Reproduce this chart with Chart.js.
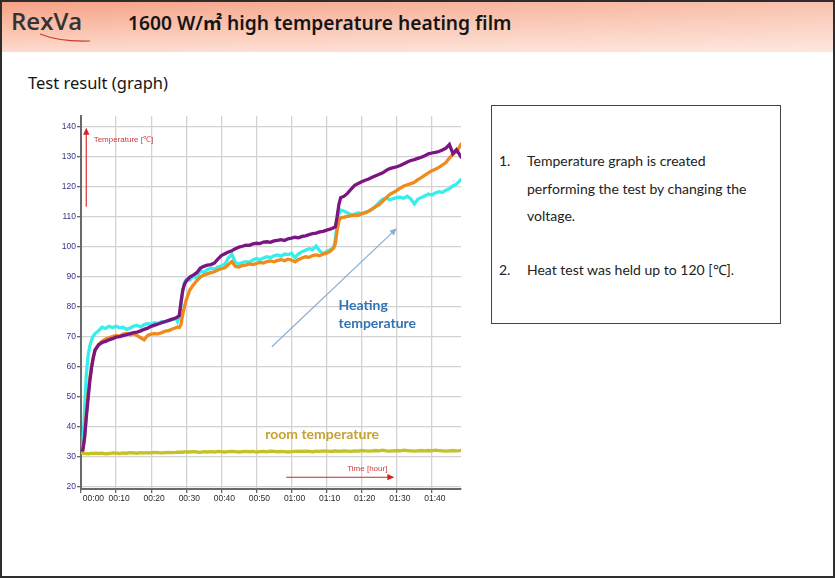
<!DOCTYPE html>
<html><head><meta charset="utf-8">
<script src="https://cdn.jsdelivr.net/npm/chart.js@4.4.1/dist/chart.umd.min.js"></script>
<style>
html,body{margin:0;padding:0;background:#fff;}
#page{position:relative;width:835px;height:578px;overflow:hidden;background:#fff;font-family:"Noto Sans",sans-serif;color:#151515;}
#frame{position:absolute;left:0;top:0;width:835px;height:578px;box-sizing:border-box;border:2px solid #2d2d2d;pointer-events:none;z-index:10;}
#header{position:absolute;left:0;top:0;width:835px;height:52px;
 background:linear-gradient(to right, rgba(255,255,255,0) 0%, rgba(255,255,255,0.35) 100%), linear-gradient(to bottom,#f59f82 0%,#fbc9b6 70%,#fddbcf 100%);}
#logo{position:absolute;left:11px;top:4px;font-family:"Open Sans",sans-serif;font-weight:600;font-size:24px;color:#333;letter-spacing:0px;}
#swoosh{position:absolute;left:38px;top:33px;}
#title{position:absolute;left:128px;top:8px;font-family:"Noto Sans","Noto Sans CJK KR",sans-serif;font-weight:600;font-size:19.2px;color:#151515;white-space:nowrap;}
#sub{position:absolute;left:28px;top:71px;font-size:16.5px;color:#151515;white-space:nowrap;}
#box{position:absolute;left:491px;top:105px;width:290px;height:219px;box-sizing:border-box;border:1px solid #444;}
.ln{position:absolute;font-family:Lato,sans-serif;font-size:14px;color:#222;white-space:nowrap;line-height:16px;}
#chartWrap{position:absolute;left:50px;top:110px;width:420px;height:400px;}
</style></head>
<body>
<div id="page">
 <div id="header"></div>
 <div id="logo">RexVa</div>
 <svg id="swoosh" width="60" height="12"><path d="M2 1 Q 22 9 52 8" stroke="#d23a2a" stroke-width="1.2" fill="none"/></svg>
 <div id="title">1600 W/㎡ high temperature heating film</div>
 <div id="sub">Test result (graph)</div>
 <div id="box"></div>
 <div class="ln" style="left:499px;top:153px;">1.</div>
 <div class="ln" style="left:527px;top:153px;">Temperature graph is created</div>
 <div class="ln" style="left:527px;top:181px;">performing the test by changing the</div>
 <div class="ln" style="left:527px;top:208px;">voltage.</div>
 <div class="ln" style="left:499px;top:262px;">2.</div>
 <div class="ln" style="left:527px;top:262px;">Heat test was held up to 120 [℃].</div>
 <div id="chartWrap"><canvas id="c" width="420" height="400"></canvas></div>
 <div id="frame"></div>
</div>
<script>
// ---- data (time in minutes, temperature in °C) ----
const timeMin = [0,0.5,1,1.5,2,2.5,3,3.5,4,
 5,6,7,8,9,10,11,12,13,14,15,16,17,18,19,20,21,22,23,24,25,26,27,
 27.5,28,28.5,29,29.5,30,
 31,32,33,34,35,36,37,38,39,40,41,42,43,44,45,46,47,48,49,50,51,52,53,54,55,56,57,58,59,60,61,62,63,64,65,66,67,68,69,70,71,
 71.5,72,72.5,73,73.5,74,
 75,76,77,78,79,80,81,82,83,84,85,86,87,88,89,90,91,92,93,94,95,96,97,98,99,100,101,102,103,104,105,106,107,108,
 108.5];

const purpleSeries = [31.5,32.0,36.0,43.0,49.0,55.0,59.5,63.0,65.5,
 67.2,68.0,68.4,68.9,69.3,69.8,70.0,70.3,70.6,71.0,71.3,71.5,71.9,72.4,72.8,73.4,73.8,74.2,74.6,75.0,75.4,75.8,76.2,
 76.5,77.0,81.5,85.5,87.5,88.5,
 89.8,90.5,91.3,92.8,93.4,93.8,94.0,94.5,95.8,97.0,97.6,98.2,98.6,99.3,99.8,100.1,100.5,100.4,100.9,101.1,101.0,101.5,101.6,101.4,101.9,102.1,102.3,102.0,102.6,102.8,103.1,102.9,103.4,103.6,104.0,104.3,104.5,104.9,105.1,105.5,105.8,
 106.0,106.3,106.6,110.0,114.0,116.3,
 116.8,117.8,119.2,120.4,121.0,121.6,122.1,122.5,123.1,123.6,124.1,124.6,125.4,126.0,126.3,126.6,127.0,127.6,128.2,128.7,129.0,129.4,129.8,130.3,130.9,131.2,131.4,131.7,132.2,132.8,134.0,131.0,132.3,130.5,
 129.5];

const orangeSeries = [31.5,32.0,36.0,44.0,50.5,56.0,60.0,63.0,65.5,
 67.3,68.4,69.2,69.6,70.0,70.4,70.1,70.8,71.0,70.6,70.9,70.3,69.6,68.9,70.4,70.8,71.0,70.9,71.3,71.8,72.0,72.5,72.9,
 73.2,73.0,74.0,77.5,80.0,82.2,
 85.5,87.2,88.6,89.8,90.5,90.9,91.3,91.6,92.2,92.6,92.9,94.0,95.0,93.4,93.2,93.7,93.8,94.2,94.0,94.4,94.7,94.5,95.0,95.2,94.9,95.4,95.6,95.3,95.8,95.5,94.9,95.7,96.2,96.6,96.4,97.0,97.2,96.9,97.5,97.8,98.4,
 99.0,99.6,101.0,105.5,108.5,109.6,
 109.8,110.1,110.3,110.5,110.4,111.0,111.2,111.8,112.6,113.3,114.0,115.2,116.3,117.4,118.0,118.7,119.5,120.2,120.6,121.0,121.4,122.3,123.0,123.8,124.6,125.3,125.8,126.4,127.2,128.0,129.5,130.8,131.5,133.5,
 134.5];

const cyanSeries = [32.0,33.5,45.0,57.0,63.5,66.8,68.8,70.2,71.0,
 71.9,73.1,72.7,73.4,73.0,73.4,72.9,73.1,72.4,72.8,73.5,73.7,73.2,74.0,74.3,74.1,74.6,74.4,75.0,74.8,75.3,75.6,76.1,
 75.0,76.4,80.5,85.2,88.0,89.0,
 88.8,90.3,89.4,92.0,91.4,92.3,92.8,92.5,93.2,93.6,94.1,96.2,97.4,94.7,94.2,94.7,95.0,94.8,95.5,96.0,95.6,96.2,96.6,96.3,96.9,97.2,96.8,97.5,97.3,97.8,96.3,97.6,98.3,98.8,99.3,99.0,100.2,98.6,97.6,98.4,98.9,
 99.2,99.6,102.5,107.5,110.8,112.2,
 111.8,111.2,110.6,110.8,111.3,110.9,111.4,111.8,112.4,113.5,114.8,115.8,116.2,115.6,116.0,116.3,116.5,116.1,116.8,115.9,114.2,115.8,116.4,116.9,117.5,117.2,117.9,118.3,118.0,118.8,119.3,120.2,120.8,122.0,
 122.6];

const roomSeries = [31.2,31.0,31.1,31.0,30.9,31.0,31.1,31.0,31.1,
 31.0,31.1,30.9,31.0,31.2,31.1,31.0,31.2,31.1,31.3,31.2,31.1,31.3,31.2,31.3,31.2,31.4,31.3,31.2,31.3,31.4,31.3,31.4,
 31.5,31.4,31.5,31.4,31.6,31.5,
 31.5,31.6,31.5,31.4,31.6,31.5,31.6,31.5,31.7,31.6,31.5,31.6,31.7,31.6,31.5,31.6,31.7,31.6,31.7,31.5,31.6,31.7,31.6,31.8,31.7,31.6,31.7,31.6,31.5,31.6,31.7,31.8,31.7,31.8,31.7,31.6,31.8,31.7,31.9,31.8,31.7,
 31.8,31.7,31.9,31.8,31.7,31.8,
 31.9,31.8,31.7,31.9,31.8,32.0,31.9,31.8,31.9,32.0,31.9,32.1,31.9,31.8,31.9,32.0,31.9,32.1,32.0,31.9,31.8,31.9,32.0,31.9,32.0,31.9,32.1,32.0,31.9,31.8,31.9,32.0,31.9,32.0,
 32.1];

const yTickValues = [20,30,40,50,60,70,80,90,100,110,120,130,140];
const xTickValues = [0,10,20,30,40,50,60,70,80,90,100];

// ---- chart ----
const toXY = arr => arr.map((v,i)=>({x: timeMin[i], y: v}));
const fmt = m => { const h=Math.floor(m/60), mm=m%60; return String(h).padStart(2,'0')+':'+String(mm).padStart(2,'0'); };

const annot = {
  id:'annot',
  afterDatasetsDraw(chart){
    const {ctx, scales:{x,y}} = chart;
    const px = v=>x.getPixelForValue(v), py = v=>y.getPixelForValue(v);
    function arrow(x1,y1,x2,y2,color,lw,head){
      ctx.save();
      ctx.strokeStyle=color; ctx.fillStyle=color; ctx.lineWidth=lw;
      const a=Math.atan2(y2-y1,x2-x1);
      ctx.beginPath(); ctx.moveTo(x1,y1); ctx.lineTo(x2-Math.cos(a)*head*0.8,y2-Math.sin(a)*head*0.8); ctx.stroke();
      ctx.beginPath(); ctx.moveTo(x2,y2);
      ctx.lineTo(x2-head*Math.cos(a)+head*0.45*Math.sin(a), y2-head*Math.sin(a)-head*0.45*Math.cos(a));
      ctx.lineTo(x2-head*Math.cos(a)-head*0.45*Math.sin(a), y2-head*Math.sin(a)+head*0.45*Math.cos(a));
      ctx.closePath(); ctx.fill();
      ctx.restore();
    }
    ctx.save();
    arrow(px(1.5),py(113.3),px(1.5),py(139.6),'#d32222',1.1,7);
    arrow(px(58.5),py(23.1),px(89.3),py(23.1),'#d32222',1.1,7);
    ctx.font='8px "Liberation Sans"'; ctx.fillStyle='#cc3b3b'; ctx.textBaseline='middle';
    ctx.textAlign='left'; ctx.fillText('Temperature [℃]', px(3.6), py(135.7));
    ctx.textAlign='center'; ctx.fillText('Time [hour]', px(81.6), py(25.8));
    arrow(px(54.4),py(66.6),px(90.0),py(106.1),'#8aaed0',1.2,7);
    ctx.font='bold 14px Lato'; ctx.textAlign='left';
    ctx.fillStyle='#2f74b5';
    ctx.fillText('Heating', px(73.4), py(80.3));
    ctx.fillText('temperature', px(73.4), py(74.4));
    ctx.fillStyle='#c6a232';
    ctx.fillText('room temperature', px(52.5), py(37.5));
    ctx.restore();
  }
};

const lineDs = (label, arr, color) => ({label, data: toXY(arr), borderColor: color, backgroundColor: color,
  borderWidth: 3.3, pointRadius: 0, tension: 0, fill: false});

new Chart(document.getElementById('c'), {
  type:'line',
  data:{ datasets:[
    lineDs('Room', roomSeries, '#c6c226'),
    lineDs('Purple', purpleSeries, '#7b1582'),
    lineDs('Orange', orangeSeries, '#f08a1c'),
    lineDs('Cyan', cyanSeries, '#38eeea')
  ]},
  options:{
    responsive:false, animation:false, devicePixelRatio:1,
    layout:{padding:{top:6,right:9,left:0,bottom:0}},
    plugins:{legend:{display:false}, tooltip:{enabled:false}},
    scales:{
      x:{type:'linear', min:0, max:108.3,
        afterBuildTicks: s => { s.ticks = xTickValues.map(v=>({value:v})); },
        afterFit: s => { s.height = 21; },
        grid:{color:'#d2d2d2', lineWidth:1.3, tickLength:4, tickColor:'#666'},
        border:{display:true, color:'#6a6a6a', width:2},
        ticks:{autoSkip:false, maxRotation:0, padding:1, labelOffset:3, color:'#2a2a2a',
          font:{family:'Liberation Sans', size:8.5},
          callback: v => v===0 ? '        '+fmt(v) : fmt(v)}
      },
      y:{type:'linear', min:19.17, max:143.5,
        afterBuildTicks: s => { s.ticks = yTickValues.map(v=>({value:v})); },
        afterFit: s => { s.width = 31; },
        grid:{color:'#d2d2d2', lineWidth:1.3, tickLength:4, tickColor:'#666'},
        border:{display:true, color:'#6a6a6a', width:2},
        ticks:{padding:1, color:'#35358a', font:{family:'Liberation Sans', size:8.5}}
      }
    }
  },
  plugins:[annot]
});
</script>
</body></html>
